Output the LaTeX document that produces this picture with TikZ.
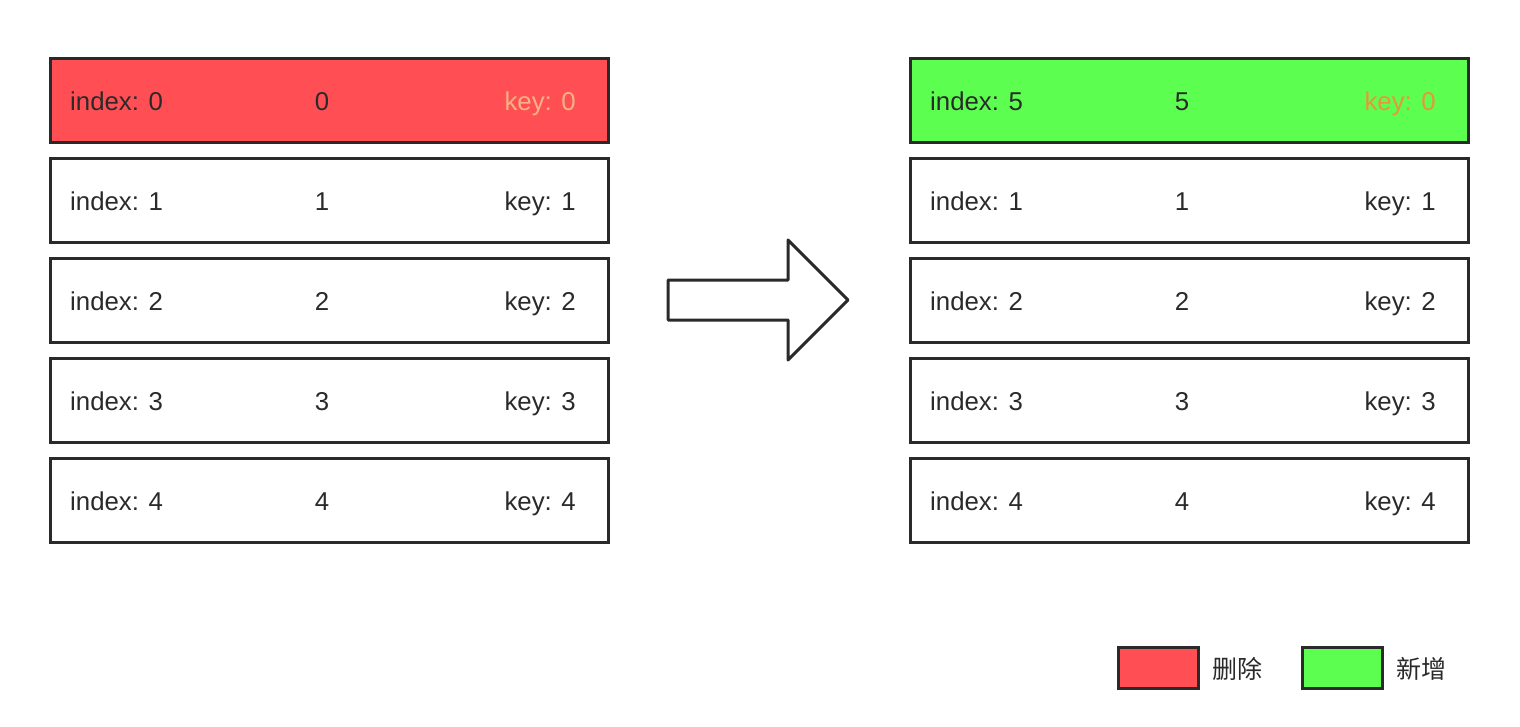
\documentclass[tikz,border=0pt]{standalone}
\usepackage{fontspec}
\setmainfont{Liberation Sans}
\newfontfamily\cjk{Noto Sans CJK SC}
\definecolor{delred}{HTML}{FF4F55}
\definecolor{addgreen}{HTML}{5CFF50}
\definecolor{txt}{HTML}{2A2A2A}
\definecolor{keyred}{HTML}{F7B183}
\definecolor{keygreen}{HTML}{E8963C}
\begin{document}
\begin{tikzpicture}[x=1pt,y=-1pt,
  rowbox/.style={draw=txt,line width=3pt,minimum width=558pt,minimum height=84pt,inner sep=0pt},
  lbl/.style={font=\fontsize{25.8}{28}\selectfont,text=txt,inner sep=0pt},
  legbox/.style={draw=txt,line width=3pt,minimum width=80pt,minimum height=41pt,inner sep=0pt},
  legtxt/.style={font=\cjk\fontsize{25}{28}\selectfont,text=txt,anchor=west,inner sep=0pt}]
\useasboundingbox (0,0) rectangle (1520,726);
% left column
\node[rowbox,fill=delred] (L0) at (329,100) {};
\foreach \i/\y in {1/200,2/300,3/400,4/500}{
  \node[rowbox,fill=white] (L\i) at (329,\y) {};
}
\foreach \i/\y in {0/100,1/200,2/300,3/400,4/500}{
  \node[lbl,anchor=base west] (Li\i) at (70,\y+10) {index: \i};
  \node[lbl,anchor=base] (Lc\i) at (322,\y+10) {\i};
}
\node[lbl,anchor=base east,text=keyred] (Lk0) at (576,110) {key: 0};
\foreach \i/\y in {1/200,2/300,3/400,4/500}{
  \node[lbl,anchor=base east] (Lk\i) at (576,\y+10) {key: \i};
}
% right column
\node[rowbox,fill=addgreen] (R0) at (1189,100) {};
\foreach \i/\y in {1/200,2/300,3/400,4/500}{
  \node[rowbox,fill=white] (R\i) at (1189,\y) {};
}
\node[lbl,anchor=base west] (Ri0) at (930,110) {index: 5};
\node[lbl,anchor=base] (Rc0) at (1182,110) {5};
\node[lbl,anchor=base east,text=keygreen] (Rk0) at (1436,110) {key: 0};
\foreach \i/\y in {1/200,2/300,3/400,4/500}{
  \node[lbl,anchor=base west] (Ri\i) at (930,\y+10) {index: \i};
  \node[lbl,anchor=base] (Rc\i) at (1182,\y+10) {\i};
  \node[lbl,anchor=base east] (Rk\i) at (1436,\y+10) {key: \i};
}
% big arrow
\draw[txt,line width=3pt,line join=round,fill=white]
  (668,280) -- (788,280) -- (788,240) -- (848,300) -- (788,360) -- (788,320) -- (668,320) -- cycle;
% legend
\node[legbox,fill=delred] (legR) at (1158,667.5) {};
\node[legtxt] (legRt) at (1212,669) {删除};
\node[legbox,fill=addgreen] (legG) at (1342,667.5) {};
\node[legtxt] (legGt) at (1396,669) {新增};
\end{tikzpicture}
\end{document}
